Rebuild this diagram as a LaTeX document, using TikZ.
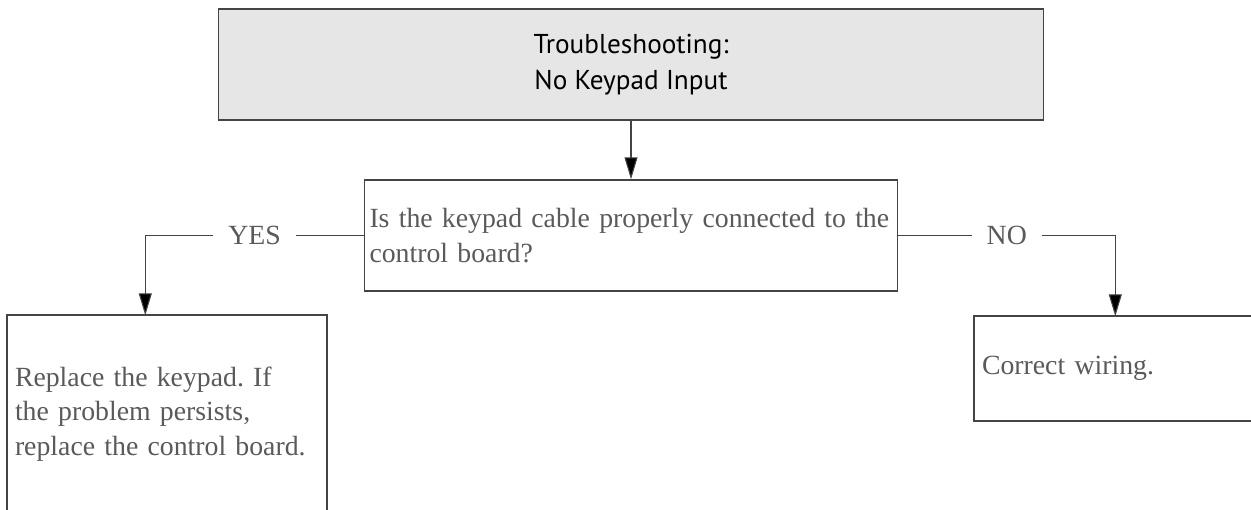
\documentclass[tikz,border=0pt]{standalone}
\usepackage{fontspec}
\setmainfont{Liberation Serif}
\newfontfamily\titlefont{PT Sans}
\usepackage{tikz}
\usetikzlibrary{arrows.meta, positioning, calc}
\definecolor{boxgray}{HTML}{E6E6E7}
\definecolor{linegray}{HTML}{444444}
\definecolor{textgray}{HTML}{5A5A5A}
\frenchspacing

\tikzset{
    titlebox/.style={draw=linegray, line width=0.8pt, fill=boxgray, align=center,
        minimum width=16.5cm, minimum height=2.22cm,
        font=\titlefont\fontsize{15.5}{20.5}\selectfont},
    stepbox/.style={draw=linegray, line width=0.8pt, fill=white, align=left,
        inner xsep=0.14cm, text=textgray, font=\fontsize{15.8}{19.5}\selectfont},
    openbox/.style={stepbox, draw=none},
    border/.style={draw=linegray, line width=0.95pt},
    flow/.style={draw=linegray, line width=0.6pt, -{Triangle[length=0.44cm, width=0.26cm, fill=black]}},
    answer/.style={fill=white, inner xsep=0.3cm, text=textgray, font=\fontsize{15.8}{18}\selectfont}
}

\begin{document}
\begin{tikzpicture}
    \useasboundingbox (0,0) rectangle (25.02,10.2);

    % Boxes
    \node[titlebox] (title) at (12.62,8.91) {Troubleshooting:\\No Keypad Input};
    \node[stepbox, inner xsep=0.1cm, text width=10.46cm, minimum height=2.22cm] (cable) at (12.62,5.49)
        {Is the keypad cable properly connected to the\\control board?};
    \node[openbox, text width=6.08cm, minimum height=3.92cm] (keypad) at (3.34,1.92)
        {Replace the keypad. If\\the problem persists,\\replace the control board.};
    \node[openbox, text width=5.5cm, minimum height=2.06cm] (wiring) at (22.39,2.83)
        {Correct wiring.};

    % Open borders (cut by the page edge)
    \draw[border] (keypad.south west) -- (keypad.north west) -- (keypad.north east) -- (keypad.south east);
    \draw[border] (wiring.north east) -- (wiring.north west) -- (wiring.south west) -- (wiring.south east);

    % Connectors
    \draw[flow] (title) -- (cable);
    \draw[flow] (cable.west) -| node[answer, pos=0.25] {YES} ([xshift=2.76cm]keypad.north west);
    \draw[flow] (cable.east) -| node[answer, pos=0.25] {NO} ([xshift=2.82cm]wiring.north west);
\end{tikzpicture}
\end{document}
